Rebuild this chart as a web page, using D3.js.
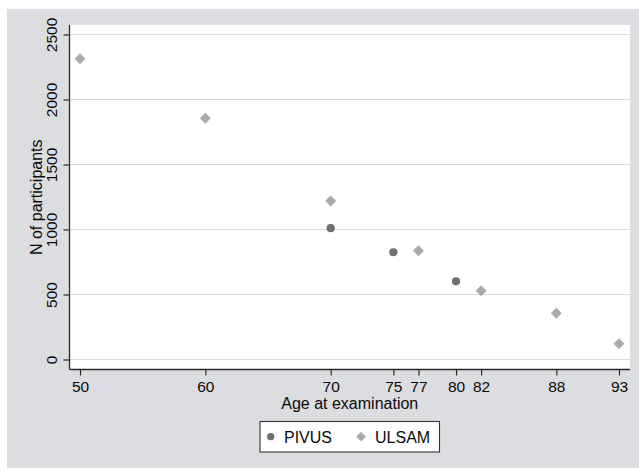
<!DOCTYPE html>
<html>
<head>
<meta charset="utf-8">
<script src="https://cdn.jsdelivr.net/npm/d3@7"></script>
<style>
  html, body { margin: 0; padding: 0; background: #ffffff; }
  svg { display: block; font-family: "Liberation Sans", Arial, Helvetica, sans-serif; }
</style>
</head>
<body>
<svg id="chart" width="639" height="470"></svg>
<script>
// ---- data ----
const pivusAges = [70, 75, 80];
const pivusCounts = [1010, 825, 601];
const ulsamAges = [50, 60, 70, 77, 82, 88, 93];
const ulsamCounts = [2314, 1855, 1219, 837, 529, 355, 122];
const xTickValues = [50, 60, 70, 75, 77, 80, 82, 88, 93];
const yTickValues = [0, 500, 1000, 1500, 2000, 2500];
const seriesNames = ["PIVUS", "ULSAM"];
const xTitle = "Age at examination";
const yTitle = "N of participants";

// ---- layout ----
const svg = d3.select("#chart");
const plot = { left: 69.5, right: 630, top: 25, bottom: 369.5 };
const x = d3.scaleLinear().domain([50, 93]).range([80, 619]);
const y = d3.scaleLinear().domain([0, 2500]).range([359.5, 34.5]);

const bg = "#dcdde0";
const pivusColor = "#6e6f72";
const ulsamColor = "#a9aaad";
const axisColor = "#2a2a2a";
const textColor = "#0a0a0a";

// outer gray background
svg.append("rect").attr("x", 7).attr("y", 9).attr("width", 632).attr("height", 459).attr("fill", bg);
// plot area
svg.append("rect").attr("x", plot.left).attr("y", plot.top)
  .attr("width", plot.right - plot.left).attr("height", plot.bottom - plot.top).attr("fill", "#ffffff");

// gridlines
svg.append("g").selectAll("line").data(yTickValues).join("line")
  .attr("x1", plot.left).attr("x2", plot.right)
  .attr("y1", d => y(d)).attr("y2", d => y(d))
  .attr("stroke", "#dadada").attr("stroke-width", 1.2);

// y axis
const yAxis = d3.axisLeft(y).tickValues(yTickValues).tickSize(6).tickPadding(6).tickFormat(d3.format("d"));
const gy = svg.append("g").attr("transform", `translate(${plot.left},0)`).call(yAxis);
gy.select(".domain").remove();
gy.append("line").attr("x1", 0).attr("x2", 0).attr("y1", plot.top).attr("y2", plot.bottom)
  .attr("stroke", axisColor).attr("stroke-width", 1.3);
gy.selectAll(".tick line").attr("stroke", axisColor).attr("stroke-width", 1.2);
gy.selectAll(".tick text")
  .attr("fill", textColor).attr("font-size", 15.5)
  .attr("transform", "rotate(-90)")
  .attr("x", 0).attr("y", -12.5)
  .attr("dy", 0)
  .attr("text-anchor", "middle");

// x axis
const xAxis = d3.axisBottom(x).tickValues(xTickValues).tickSize(6).tickPadding(6).tickFormat(d3.format("d"));
const gx = svg.append("g").attr("transform", `translate(0,${plot.bottom})`).call(xAxis);
gx.select(".domain").remove();
gx.append("line").attr("x1", plot.left).attr("x2", plot.right).attr("y1", 0).attr("y2", 0)
  .attr("stroke", axisColor).attr("stroke-width", 1.3);
gx.selectAll(".tick line").attr("stroke", axisColor).attr("stroke-width", 1.2);
gx.selectAll(".tick text").attr("fill", textColor).attr("font-size", 15.5)
  .attr("y", 22.5).attr("dy", 0);

// axis titles
svg.append("text").attr("x", (plot.left + plot.right) / 2).attr("y", 409)
  .attr("text-anchor", "middle").attr("font-size", 16).attr("fill", textColor).text(xTitle);
svg.append("text").attr("transform", `translate(41.5,${(plot.top + plot.bottom) / 2}) rotate(-90)`)
  .attr("text-anchor", "middle").attr("font-size", 16).attr("fill", textColor).text(yTitle);

// points
const pivus = pivusAges.map((a, i) => ({ a, n: pivusCounts[i] }));
const ulsam = ulsamAges.map((a, i) => ({ a, n: ulsamCounts[i] }));

svg.append("g").selectAll("circle").data(pivus).join("circle")
  .attr("cx", d => x(d.a)).attr("cy", d => y(d.n)).attr("r", 4.1).attr("fill", pivusColor);

const diamond = d3.symbol().type(d3.symbolSquare).size(60);
svg.append("g").selectAll("path").data(ulsam).join("path")
  .attr("d", diamond)
  .attr("transform", d => `translate(${x(d.a)},${y(d.n)}) rotate(45)`)
  .attr("fill", ulsamColor);

// legend
const lg = svg.append("g");
lg.append("rect").attr("x", 260).attr("y", 421.5).attr("width", 179.5).attr("height", 30.5)
  .attr("fill", "#ffffff").attr("stroke", "#333").attr("stroke-width", 1.1);
lg.append("circle").attr("cx", 270.7).attr("cy", 436.7).attr("r", 3.6).attr("fill", pivusColor);
lg.append("text").attr("x", 284).attr("y", 442.5).attr("font-size", 16).attr("fill", textColor).text(seriesNames[0]);
lg.append("path").attr("d", d3.symbol().type(d3.symbolSquare).size(48))
  .attr("transform", "translate(361,436.7) rotate(45)").attr("fill", ulsamColor);
lg.append("text").attr("x", 375).attr("y", 442.5).attr("font-size", 16).attr("fill", textColor).text(seriesNames[1]);
</script>
</body>
</html>
